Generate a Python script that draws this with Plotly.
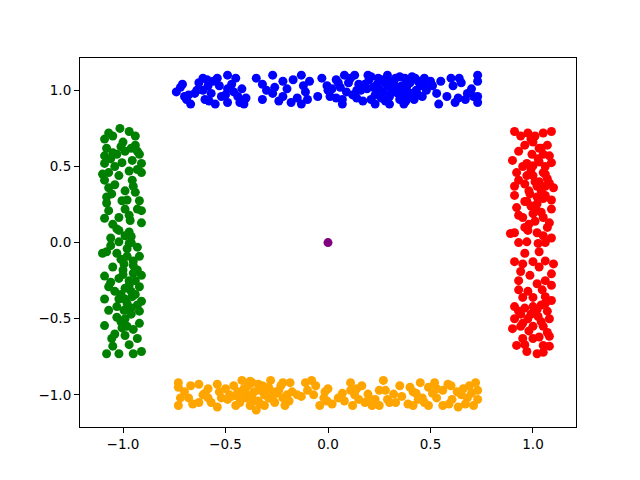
import plotly.graph_objects as go

# Top cluster (blue)
blue_x = [-0.74, -0.71, -0.70, -0.67, -0.65, -0.61, -0.61, -0.60, -0.585, -0.57, -0.55, -0.54, -0.53,
          -0.49, -0.49, -0.49, -0.45, -0.44, -0.42, -0.41, -0.40, -0.35, -0.32, -0.32, -0.27, -0.26,
          -0.27, -0.22, -0.22, -0.20, -0.18, -0.13, -0.12, -0.15, -0.09, -0.10, -0.13, -0.05, 0.0,
          -0.005, 0.01, 0.06, 0.08, 0.10, 0.07, 0.07, 0.13, 0.15, 0.14, 0.195, 0.21, 0.23, 0.245, 0.25,
          0.29, 0.29, 0.30, 0.30, 0.33, 0.34, 0.35, 0.37, 0.375, 0.385, 0.41, 0.425, 0.45, 0.46, 0.47,
          0.51, 0.54, 0.55, 0.60, 0.61, 0.635, 0.64, 0.68, 0.73, 0.73, 0.73, 0.73, 0.67,
          0.22, 0.27, 0.32, 0.36, 0.40, 0.43, 0.38, 0.26, 0.18, 0.31,
          0.12, 0.17, 0.20, 0.24, 0.28, 0.33, 0.35, 0.39, 0.42, 0.44, 0.48, 0.16, 0.09, 0.04, 0.04,
          -0.72, -0.68, -0.63, -0.58, -0.56, -0.52, -0.47, -0.43, -0.30, -0.24, -0.17, -0.11, -0.03,
          0.58, 0.65, 0.70, 0.53,
          0.11, 0.14, 0.19, 0.23, 0.26, 0.30, 0.34, 0.37, 0.41, 0.44, 0.47, 0.21, 0.28, 0.36, 0.40,
          -0.69, -0.64, -0.59, -0.50, -0.46, 0.02, 0.05, 0.62, 0.71, 0.50]
blue_y = [0.99, 1.04, 0.96, 0.91, 0.98, 1.08, 1.00, 0.94, 1.03, 0.98, 0.91, 1.08, 1.03,
          1.10, 1.01, 0.92, 1.08, 0.96, 1.01, 0.91, 0.95, 1.08, 1.04, 0.94, 1.10, 1.02,
          0.98, 1.06, 0.96, 1.01, 0.92, 1.10, 1.03, 0.95, 1.06, 0.94, 0.91, 0.96, 1.00,
          1.03, 0.96, 1.02, 1.10, 1.05, 0.94, 0.91, 1.10, 1.04, 1.00, 1.10, 0.94, 0.91, 1.08, 1.01,
          1.10, 1.03, 0.96, 0.91, 1.08, 1.00, 0.94, 0.91, 1.08, 1.03, 0.98, 1.08, 1.03, 0.96, 1.08,
          1.03, 0.91, 1.06, 1.08, 1.03, 0.95, 1.08, 0.98, 1.10, 1.06, 0.96, 0.92, 0.94,
          1.02, 0.99, 1.05, 0.97, 1.05, 1.00, 0.93, 0.95, 1.04, 0.99,
          0.97, 0.93, 1.07, 1.04, 0.93, 1.02, 1.09, 0.99, 0.94, 1.06, 1.00, 1.00, 0.99, 1.07, 0.95,
          1.02, 0.97, 1.05, 0.93, 1.06, 0.96, 1.04, 0.92, 1.00, 0.93, 1.07, 0.99, 1.08,
          0.96, 1.05, 1.01, 0.98,
          1.08, 0.95, 1.01, 0.97, 1.07, 1.06, 0.98, 1.02, 1.09, 0.97, 1.04, 1.09, 1.05, 1.03, 0.96,
          0.94, 1.00, 1.07, 0.97, 0.99, 1.01, 1.05, 0.92, 0.96, 1.06]

# Bottom cluster (orange)
orange_x = [-0.73, -0.73, -0.72, -0.73, -0.68, -0.63, -0.63, -0.585, -0.585, -0.54, -0.54, -0.53,
            -0.49, -0.46, -0.45, -0.44, -0.42, -0.40, -0.39, -0.38, -0.37, -0.36, -0.34, -0.35,
            -0.32, -0.31, -0.31, -0.28, -0.27, -0.26, -0.23, -0.22, -0.21, -0.185, -0.175, -0.15,
            -0.11, -0.10, -0.08, -0.07, -0.04, -0.015, -0.005,
            0.0, 0.05, 0.11, 0.11, 0.12, 0.15, 0.165, 0.195, 0.215, 0.23, 0.27, 0.28, 0.32, 0.33,
            0.35, 0.415, 0.415, 0.45, 0.46, 0.49, 0.49, 0.52, 0.53, 0.56, 0.56, 0.585, 0.605, 0.63,
            0.635, 0.67, 0.69, 0.71, 0.73, 0.73, 0.25, 0.30, 0.08,
            -0.70, -0.66, -0.60, -0.57, -0.50, -0.47, -0.43, -0.41, -0.36, -0.33, -0.29, -0.25,
            -0.19, -0.13, -0.06, 0.02, 0.07, 0.14, 0.18, 0.25, 0.29, 0.36, 0.39, 0.43, 0.47, 0.51,
            0.59, 0.65, 0.68, 0.72,
            -0.44, -0.40, -0.37, -0.34, -0.30, -0.27, -0.24, -0.20, -0.38, -0.33, -0.29, -0.22,
            -0.48, -0.52, -0.67, -0.61, 0.40, 0.44, 0.53, 0.60, 0.66, 0.13, 0.20, -0.02, 0.70]
orange_y = [-0.92, -0.95, -1.02, -1.07, -1.02, -0.93, -1.05, -0.96, -1.02, -1.08, -0.93, -0.98,
            -1.03, -0.94, -1.07, -0.98, -0.905, -1.02, -0.94, -1.07, -0.92, -0.98, -1.04, -1.10,
            -0.94, -1.00, -1.07, -0.905, -0.98, -1.05, -0.94, -1.02, -1.07, -0.92, -0.98, -1.00,
            -0.92, -0.97, -0.905, -1.00, -1.07, -0.98, -1.04,
            -0.96, -1.02, -0.92, -0.97, -1.07, -1.03, -0.94, -0.995, -1.07, -1.03, -0.905, -0.97,
            -0.995, -1.05, -0.94, -0.98, -1.07, -0.92, -1.02, -0.95, -1.07, -0.92, -1.02, -0.97,
            -1.07, -0.93, -1.03, -0.98, -1.08, -1.06, -0.94, -1.07, -0.97, -1.03, -1.07, -1.05, -1.04,
            -0.98, -1.06, -0.99, -1.05, -0.96, -1.01, -1.05, -0.96, -1.04, -0.97, -1.02, -0.99,
            -1.04, -1.01, -0.94, -1.06, -0.99, -0.96, -1.05, -0.97, -1.03, -1.01, -1.06, -0.99, -1.05, -0.99,
            -1.06, -1.00, -1.02, -0.92,
            -1.01, -0.99, -1.02, -0.93, -0.96, -1.03, -0.97, -1.00, -0.91, -1.06, -0.95, -0.92,
            -1.00, -1.02, -0.94, -1.00, -0.95, -1.03, -0.96, -0.94, -0.96, -1.00, -1.02, -1.02, -0.99]

# Left cluster (green)
green_x = [-1.07, -1.015, -0.97, -0.94, -1.09, -1.08, -0.94, -1.09, -1.03, -0.99, -0.92, -1.09,
           -1.005, -0.955, -0.91, -1.07, -0.97, -0.91, -1.09, -1.02, -0.955, -1.055, -0.99, -0.94,
           -1.08, -1.005, -0.92, -1.07, -0.99, -0.91, -1.09, -1.02, -0.965, -0.91, -1.02, -0.99,
           -1.10, -1.10,
           -1.02, -0.97, -1.08, -1.03, -0.92, -0.995, -0.95, -1.09, -1.02, -0.91, -1.07, -0.99,
           -0.92, -1.09, -1.02, -0.955, -0.91, -1.07, -0.995, -0.92, -1.09, -0.99, -0.92, -1.005,
           -1.055, -0.99, -0.93, -1.08, -1.02, -0.95, -0.91,
           -0.97, -0.96, -0.98, -0.96, -1.00, -0.97, -1.05, -1.04,
           -1.05, -1.00, -0.96, -1.06, -0.93, -1.04, -0.98, -0.93, -1.05, -0.96, -1.06, -0.93,
           -1.01, -0.93, -1.06, -0.94, -1.01, -0.93, -1.03, -0.95, -1.04, -0.97, -1.05, -0.98, -1.06,
           -0.98, -0.95, -1.00, -0.97, -0.94, -0.99, -0.96, -1.01, -0.95, -0.98, -1.03, -0.96,
           -1.04, -1.07, -0.95, -1.01, -1.05, -0.97, -0.93, -1.08, -1.03]
green_y = [0.72, 0.75, 0.73, 0.70, 0.68, 0.62, 0.64, 0.57, 0.58, 0.60, 0.58, 0.52,
           0.525, 0.54, 0.52, 0.46, 0.47, 0.46, 0.41, 0.44, 0.41, 0.32, 0.34, 0.33,
           0.26, 0.275, 0.275, 0.21, 0.22, 0.21, 0.16, 0.165, 0.145, 0.13, 0.08, 0.045,
           0.45, -0.07,
           0.005, -0.005, -0.06, -0.07, -0.09, -0.14, -0.15, -0.22, -0.235, -0.215, -0.29, -0.30,
           -0.29, -0.37, -0.37, -0.355, -0.385, -0.445, -0.445, -0.45, -0.545, -0.50, -0.53, -0.56,
           -0.63, -0.61, -0.63, -0.73, -0.73, -0.73, -0.715,
           -0.25, -0.32, -0.40, -0.47, -0.18, 0.07, -0.16, -0.32,
           0.70, 0.66, 0.62, 0.55, 0.48, 0.38, 0.28, 0.22, 0.12, 0.04, -0.02, -0.03,
           -0.11, -0.18, -0.26, -0.25, -0.34, -0.41, -0.49, -0.57, -0.60, -0.67, -0.68, -0.55, 0.03,
           -0.04, -0.12, -0.21, -0.28, -0.34, -0.37, -0.43, -0.52, -0.20, -0.09, -0.42, 0.00,
           0.50, 0.36, 0.37, 0.63, 0.59, 0.18, 0.60, 0.30, 0.09]

# Right cluster (red)
red_x = [0.91, 0.975, 1.05, 1.09, 0.96, 1.0, 1.07, 0.90, 0.995, 1.025, 1.09, 1.0, 0.92, 0.97,
         1.05, 1.07, 0.91, 0.96, 1.02, 1.10, 0.91, 0.985, 1.06, 0.92, 1.02, 1.09, 0.95, 1.0, 1.05,
         1.08, 0.91, 0.975, 1.02, 1.05,
         0.97, 1.025, 0.91, 0.95, 1.0, 1.06, 1.10, 0.94, 0.985, 1.09, 0.93, 0.975, 1.045, 1.09,
         1.06, 0.91, 0.96, 1.0, 1.07, 0.91, 0.975, 1.025, 1.08, 0.90, 1.0, 1.08, 0.92, 0.97, 1.02,
         1.05, 0.95,
         1.03, 0.96, 1.06, 1.0, 0.95, 1.05, 1.03, 0.97, 1.06, 0.89,
         0.94, 1.01, 1.04, 0.93, 1.08, 0.95, 1.06, 1.00, 0.93, 1.08, 1.04, 0.96, 1.09, 1.02, 0.93,
         1.07, 0.98, 0.93, 1.09, 1.03, 0.93, 1.02, 1.09, 0.93, 1.04, 1.05, 0.94, 1.00, 1.08, 0.96, 1.05,
         1.03, 0.99, 1.06, 1.01, 0.98, 1.05, 1.02, 0.99, 1.04, 0.97, 1.03, 0.99, 1.06, 1.01, 0.96,
         1.02, 0.94, 1.04, 0.98, 1.07, 1.03, 0.99, 0.95, 1.06]
red_y = [0.73, 0.72, 0.72, 0.73, 0.64, 0.66, 0.64, 0.54, 0.58, 0.55, 0.525, 0.505, 0.46, 0.44,
         0.46, 0.42, 0.37, 0.385, 0.37, 0.36, 0.31, 0.32, 0.31, 0.23, 0.255, 0.22, 0.165, 0.19, 0.165,
         0.13, 0.065, 0.08, 0.065, 0.045,
         0.005, -0.005, -0.125, -0.14, -0.125, -0.12, -0.14, -0.19, -0.215, -0.205, -0.31, -0.32, -0.31,
         -0.28, -0.355, -0.42, -0.43, -0.42, -0.45, -0.50, -0.50, -0.485, -0.50, -0.565, -0.55, -0.615,
         -0.675, -0.715, -0.73, -0.675, -0.63,
         -0.06, -0.07, -0.25, -0.36, -0.36, 0.58, 0.40, 0.27, 0.0, 0.06,
         0.70, 0.70, 0.62, 0.60, 0.57, 0.50, 0.50, 0.44, 0.41, 0.39, 0.34, 0.27, 0.28, 0.21, 0.18,
         0.10, 0.12, 0.00, 0.03, -0.16, -0.25, -0.27, -0.38, -0.45, -0.41, -0.55, -0.55, -0.63, -0.68, -0.67, -0.72,
         0.53, 0.48, 0.45, 0.40, 0.34, 0.29, 0.30, 0.24, 0.20, 0.52, 0.62, 0.68, 0.37, 0.14, 0.10,
         -0.44, -0.47, -0.52, -0.58, -0.59, -0.62, -0.47, -0.53, -0.40]

# Centre point (purple)
center_x = [0.0]
center_y = [0.0]

series = [
    (blue_x, blue_y, "blue"),
    (orange_x, orange_y, "orange"),
    (green_x, green_y, "green"),
    (red_x, red_y, "red"),
    (center_x, center_y, "purple"),
]

fig = go.Figure()
for xs, ys, col in series:
    fig.add_trace(go.Scatter(x=xs, y=ys, mode="markers",
                             marker=dict(color=col, size=9, line=dict(width=0)),
                             showlegend=False))

axis_common = dict(showgrid=False, zeroline=False, showline=True, linecolor="black",
                   linewidth=1.1, mirror=True, ticks="outside", ticklen=5, tickwidth=1.1,
                   tickcolor="black", automargin=False,
                   tickfont=dict(family="DejaVu Sans", size=13.5, color="black"))

ticks = [-1.0, -0.5, 0.0, 0.5, 1.0]
tick_text = ["−1.0", "−0.5", "0.0", "0.5", "1.0"]

# page body adds an 8px offset, so margins are shifted by 8px
fig.update_layout(
    width=640, height=480,
    paper_bgcolor="white", plot_bgcolor="white",
    margin=dict(l=72, r=72, t=50, b=61),
    xaxis=dict(range=[-1.2098, 1.2098], tickvals=ticks, ticktext=tick_text, **axis_common),
    yaxis=dict(range=[-1.211, 1.2125], tickvals=ticks, ticktext=tick_text, **axis_common),
)

fig.write_html("out.html")
